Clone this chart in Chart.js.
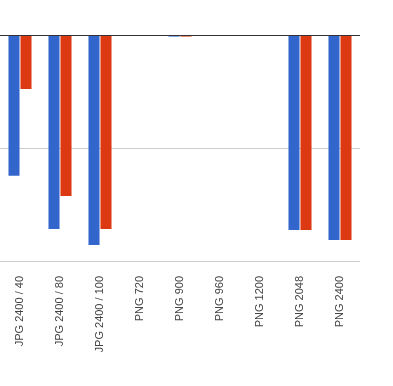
<!DOCTYPE html>
<html>
<head>
<meta charset="utf-8">
<script src="https://cdn.jsdelivr.net/npm/chart.js@4"></script>
<style>
  html, body { margin: 0; padding: 0; background: #fff; }
  #wrap { width: 393px; height: 386px; position: relative; }
</style>
</head>
<body>
<div id="wrap"><canvas id="sizeChart"></canvas></div>
<script>
// categories and the two series (0 at top, -100 at bottom gridline)
const categories = ['JPG 2400 / 40', 'JPG 2400 / 80', 'JPG 2400 / 100', 'PNG 720', 'PNG 900',
                    'PNG 960', 'PNG 1200', 'PNG 2048', 'PNG 2400'];
const seriesA = [-62.3, -85.8, -92.9, -0.4, -0.7, -0.4, -0.2, -86.3, -90.7];
const seriesB = [-23.9, -71.2, -85.8, -0.4, -0.7, -0.4, -0.2, -86.3, -90.7];

// zero line drawn over the bars like the original
const zeroLine = {
    id: 'zeroLine',
    afterDatasetsDraw(chart) {
        const { ctx, chartArea, scales } = chart;
        const y = Math.round(scales.y.getPixelForValue(0)) + 0.5;
        ctx.save();
        ctx.strokeStyle = '#333333';
        ctx.lineWidth = 1;
        ctx.beginPath();
        ctx.moveTo(chartArea.left, y);
        ctx.lineTo(chartArea.right, y);
        ctx.stroke();
        ctx.restore();
    }
};

document.addEventListener('DOMContentLoaded', () => {
    const ctx = document.getElementById('sizeChart').getContext('2d');
    new Chart(ctx, {
        type: 'bar',
        data: {
            labels: categories,
            datasets: [
                { label: 'A', data: seriesA, backgroundColor: '#3366cc', barPercentage: 0.92, categoryPercentage: 0.6 },
                { label: 'B', data: seriesB, backgroundColor: '#dc3912', barPercentage: 0.92, categoryPercentage: 0.6 }
            ]
        },
        options: {
            responsive: true,
            maintainAspectRatio: false,
            animation: false,
            layout: { padding: { top: 35, right: 33, left: 0, bottom: 0 } },
            plugins: { legend: { display: false }, tooltip: { enabled: false } },
            scales: {
                x: {
                    grid: { display: false },
                    border: { display: false },
                    ticks: {
                        minRotation: 90,
                        maxRotation: 90,
                        padding: 7,
                        color: '#444444',
                        font: { family: 'Liberation Sans, Arial, sans-serif', size: 11 }
                    },
                    afterFit(scale) { scale.height = 125; }
                },
                y: {
                    min: -100,
                    max: 0,
                    grid: { color: '#cccccc', lineWidth: 1, drawTicks: false },
                    border: { display: false },
                    ticks: { display: false, stepSize: 50 }
                }
            }
        },
        plugins: [zeroLine]
    });
});
</script>
</body>
</html>
